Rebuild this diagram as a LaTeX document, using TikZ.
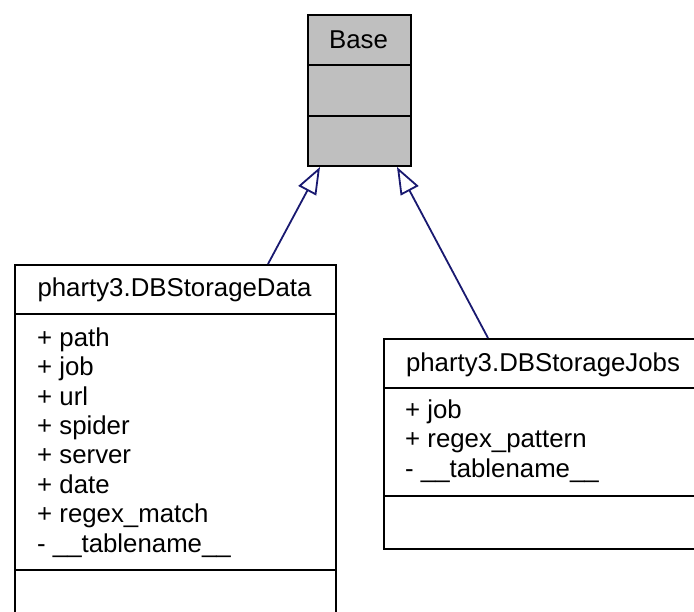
\documentclass[tikz,border=0pt]{standalone}
\usepackage{fontspec}
\setmainfont{Liberation Sans}
\usetikzlibrary{arrows.meta,positioning}
\definecolor{edgeblue}{RGB}{25,25,112}
\definecolor{basegray}{RGB}{191,191,191}
\begin{document}
\begin{tikzpicture}[
    x=1pt, y=-1pt,
    font=\fontsize{25.8}{29.4}\selectfont,
    classbox/.style={draw, line width=2pt, inner sep=0pt, anchor=north west},
    baseclass/.style={classbox, fill=basegray},
    classname/.style={inner sep=0pt, anchor=base},
    members/.style={inner sep=0pt, anchor=base west, align=left},
    divider/.style={line width=2pt},
    inherit/.style={draw=edgeblue, line width=1.8pt,
        -{Triangle[open, length=27pt, width=20pt]}},
    ]
    \useasboundingbox (0,0) rectangle (694,612);
    % base class
    \node[baseclass, minimum width=103pt, minimum height=151pt] (base) at (307,14) {};
    \node[classname] (basename) at (358.5,48.5) {Base};
    \draw[divider] (base.west |- 0,65) -- (base.east |- 0,65);
    \draw[divider] (base.west |- 0,116) -- (base.east |- 0,116);
    % DBStorageData (anchored on the baseline of its last line)
    \node[classbox, minimum width=321pt, minimum height=380pt] (data) at (14,264) {};
    \node[classname] (dataname) at (174.5,297) {pharty3.DBStorageData};
    \draw[divider] (data.west |- 0,314) -- (data.east |- 0,314);
    \node[members] (datamembers) at (37,552)
    {+ path\\+ job\\+ url\\+ spider\\+ server\\+ date\\+ regex\_match\\- \_\_tablename\_\_};
    \draw[divider] (data.west |- 0,570) -- (data.east |- 0,570);
    % DBStorageJobs
    \node[classbox, minimum width=320pt, minimum height=210pt] (jobs) at (383,338) {};
    \node[classname] (jobsname) at (543,372) {pharty3.DBStorageJobs};
    \draw[divider] (jobs.west |- 0,388) -- (jobs.east |- 0,388);
    \node[members] (jobsmembers) at (405,477)
    {+ job\\+ regex\_pattern\\- \_\_tablename\_\_};
    \draw[divider] (jobs.west |- 0,496) -- (jobs.east |- 0,496);
    % inheritance
    \draw[inherit] ([xshift=254pt]data.north west) -- ([xshift=13pt]base.south west);
    \draw[inherit] ([xshift=105pt]jobs.north west) -- ([xshift=90pt]base.south west);
\end{tikzpicture}
\end{document}
